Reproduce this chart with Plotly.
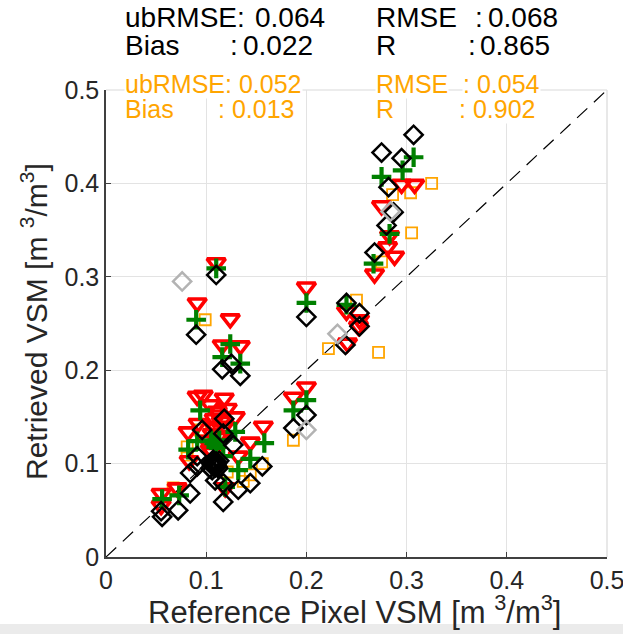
import plotly.graph_objects as go

# ---- data ----
red_x = [0.295, 0.308, 0.275, 0.283, 0.281, 0.288, 0.268,
         0.200, 0.240, 0.253, 0.252, 0.241, 0.200, 0.187,
         0.110, 0.091, 0.124, 0.116, 0.134,
         0.091, 0.097, 0.118, 0.104, 0.111, 0.121, 0.129, 0.092, 0.082, 0.107,
         0.104, 0.144, 0.157, 0.132, 0.119, 0.071, 0.055, 0.055, 0.108, 0.113,
         0.100, 0.083, 0.106,
         0.112, 0.115, 0.110, 0.114, 0.106, 0.118]
red_y = [0.399, 0.399, 0.376, 0.344, 0.332, 0.322, 0.303,
         0.289, 0.263, 0.254, 0.247, 0.229, 0.182, 0.171,
         0.315, 0.272, 0.255, 0.227, 0.226,
         0.172, 0.173, 0.170, 0.163, 0.156, 0.159, 0.150, 0.143, 0.134, 0.140,
         0.115, 0.123, 0.140, 0.108, 0.074, 0.074, 0.068, 0.055, 0.148, 0.130,
         0.125, 0.103, 0.112,
         0.152, 0.145, 0.138, 0.128, 0.132, 0.140]

green_x = [0.307, 0.296, 0.275, 0.283, 0.267,
           0.200, 0.240, 0.200, 0.187,
           0.110, 0.090, 0.124, 0.116, 0.134,
           0.094, 0.129, 0.091, 0.082, 0.158, 0.117, 0.144, 0.132, 0.056, 0.073,
           0.105, 0.110, 0.119, 0.108, 0.113]
green_y = [0.428, 0.414, 0.407, 0.346, 0.314,
           0.272, 0.270, 0.168, 0.157,
           0.309, 0.254, 0.228, 0.214, 0.207,
           0.157, 0.134, 0.124, 0.115, 0.122, 0.108, 0.105, 0.093, 0.062, 0.066,
           0.125, 0.118, 0.075, 0.122, 0.125]

black_x = [0.307, 0.275, 0.295, 0.282, 0.287, 0.280, 0.268,
           0.200, 0.240, 0.253, 0.253, 0.239, 0.200, 0.187,
           0.110, 0.090, 0.125, 0.116, 0.134,
           0.118, 0.096, 0.117, 0.127, 0.091, 0.091, 0.084, 0.084, 0.072, 0.056,
           0.055, 0.109, 0.117, 0.117, 0.156, 0.144, 0.132,
           0.105, 0.108, 0.111, 0.107, 0.112, 0.104, 0.110, 0.106, 0.113,
           0.108, 0.109, 0.106, 0.111, 0.107, 0.110]
black_y = [0.452, 0.433, 0.427, 0.396, 0.369, 0.355, 0.326,
           0.257, 0.272, 0.261, 0.247, 0.227, 0.152, 0.138,
           0.302, 0.238, 0.207, 0.201, 0.194,
           0.148, 0.136, 0.132, 0.120, 0.108, 0.097, 0.090, 0.068, 0.050, 0.043,
           0.049, 0.082, 0.079, 0.059, 0.097, 0.079, 0.072,
           0.100, 0.097, 0.101, 0.104, 0.095, 0.095, 0.099, 0.093, 0.103,
           0.099, 0.096, 0.098, 0.097, 0.101, 0.102]

orange_x = [0.325, 0.304, 0.286, 0.305, 0.275, 0.272,
            0.250, 0.222, 0.187, 0.099,
            0.156, 0.121, 0.144, 0.137, 0.067, 0.094, 0.117, 0.081, 0.081]
orange_y = [0.400, 0.390, 0.388, 0.347, 0.316, 0.219,
            0.275, 0.223, 0.125, 0.254,
            0.100, 0.091, 0.088, 0.081, 0.074, 0.136, 0.139, 0.118, 0.109]

gray_x = [0.076, 0.200, 0.231, 0.284]
gray_y = [0.295, 0.136, 0.239, 0.370]

line_x = [0, 0.5]
line_y = [0, 0.5]

ticks = [0, 0.1, 0.2, 0.3, 0.4, 0.5]
tick_labels = ["0", "0.1", "0.2", "0.3", "0.4", "0.5"]

FONT = "Liberation Sans, Arial, sans-serif"

fig = go.Figure()
fig.add_trace(go.Scatter(x=line_x, y=line_y, mode="lines",
                         line=dict(color="black", width=1.2, dash="14px,9px"),
                         hoverinfo="skip"))
fig.add_trace(go.Scatter(x=orange_x, y=orange_y, mode="markers",
                         marker=dict(symbol="square-open", size=11, color="#FFA500",
                                     line=dict(width=1.8, color="#FFA500"))))
fig.add_trace(go.Scatter(x=red_x, y=red_y, mode="markers",
                         marker=dict(symbol="triangle-down-open", size=16, color="#FF0000",
                                     line=dict(width=3.6, color="#FF0000"))))
fig.add_trace(go.Scatter(x=green_x, y=green_y, mode="markers",
                         marker=dict(symbol="cross-thin-open", size=14, color="#008000",
                                     line=dict(width=4.2, color="#008000"))))
fig.add_trace(go.Scatter(x=black_x, y=black_y, mode="markers",
                         marker=dict(symbol="diamond-open", size=14, color="black",
                                     line=dict(width=2.5, color="black"))))
fig.add_trace(go.Scatter(x=gray_x, y=gray_y, mode="markers",
                         marker=dict(symbol="diamond-open", size=14, color="#B3B3B3",
                                     line=dict(width=2.5, color="#B3B3B3"))))

axis_common = dict(range=[0, 0.5], tickvals=ticks, ticktext=tick_labels,
                   showgrid=True, gridcolor="#E3E3E3", gridwidth=1,
                   zeroline=False, showline=True, linecolor="#404040", linewidth=1.5,
                   ticks="inside", ticklen=5, tickcolor="#404040",
                   tickfont=dict(family=FONT, size=25, color="#262626"),
                   ticklabeloverflow="allow",
                   automargin=False, fixedrange=True)
fig.update_xaxes(**axis_common)
fig.update_yaxes(**axis_common)

ann = []
def txt(x, y, s, color, size):
    ann.append(dict(x=x, y=y, xref="paper", yref="paper", xanchor="left", yanchor="middle",
                    text=s, showarrow=False, font=dict(family=FONT, size=size, color=color),
                    bgcolor="white", borderpad=0))

W, H = 501.0, 467.0
L, T = 106.0, 90.0
def px(xp): return (xp - L) / W
def py(yp): return (T + H - yp) / H

# black stats
txt(px(124), py(18), "ubRMSE:", "black", 28)
txt(px(254), py(18), "0.064", "black", 28)
txt(px(124), py(46), "Bias", "black", 28)
txt(px(229), py(46), ":", "black", 28)
txt(px(242), py(46), "0.022", "black", 28)
txt(px(375), py(18), "RMSE", "black", 28)
txt(px(474), py(18), ":", "black", 28)
txt(px(487), py(18), "0.068", "black", 28)
txt(px(375), py(46), "R", "black", 28)
txt(px(467), py(46), ":", "black", 28)
txt(px(479), py(46), "0.865", "black", 28)
# orange stats
OR = "#FFA500"
txt(px(124), py(84), "ubRMSE: 0.052", OR, 25)
txt(px(124), py(109), "Bias", OR, 25)
txt(px(217), py(109), ": 0.013", OR, 25)
txt(px(375), py(84), "RMSE", OR, 25)
txt(px(462), py(84), ": 0.054", OR, 25)
txt(px(375), py(109), "R", OR, 25)
txt(px(458), py(109), ": 0.902", OR, 25)

# axis titles
ann.append(dict(x=px(354), y=py(610), xref="paper", yref="paper", xanchor="center", yanchor="middle",
                text="Reference Pixel VSM [m <sup>3</sup>/m<sup>3</sup>]", showarrow=False,
                font=dict(family=FONT, size=31, color="#262626")))
ann.append(dict(x=px(34), y=py(322), xref="paper", yref="paper", xanchor="center", yanchor="middle",
                text="Retrieved VSM [m <sup>3</sup>/m<sup>3</sup>]", showarrow=False, textangle=-90,
                font=dict(family=FONT, size=30, color="#262626")))

fig.update_layout(
    width=623, height=634,
    margin=dict(l=106, r=16, t=90, b=77, autoexpand=False),
    paper_bgcolor="white", plot_bgcolor="white",
    showlegend=False,
    annotations=ann,
    shapes=[
        dict(type="line", xref="paper", yref="paper", x0=0, x1=1, y0=1, y1=1,
             line=dict(color="#D9D9D9", width=1.2), layer="below"),
        dict(type="line", xref="paper", yref="paper", x0=1, x1=1, y0=0, y1=1,
             line=dict(color="#D9D9D9", width=1.2), layer="below"),
        dict(type="rect", xref="paper", yref="paper",
             x0=px(-10), x1=px(640), y0=py(624), y1=py(640),
             fillcolor="#EBEBEB", line=dict(width=0), layer="above"),
    ],
)

fig.write_html("out.html", config={"displayModeBar": False},
               post_script="document.body.style.margin='0px';document.body.style.overflow='hidden';")
